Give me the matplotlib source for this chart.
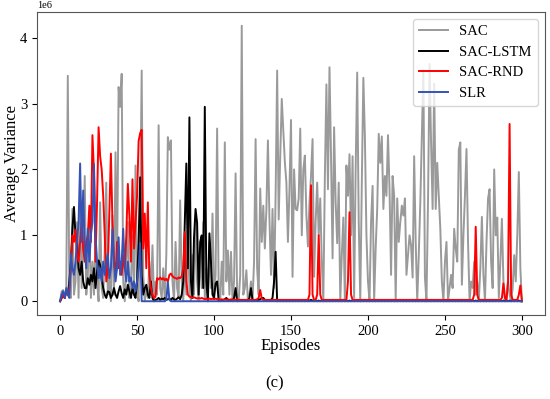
import numpy as np
import matplotlib
matplotlib.use('Agg')
import matplotlib.pyplot as plt

# average variance per episode, in units of 1e6
sac = [
    0.0, 0.15, 0.17, 0.05, 0.15, 3.42, 0.1, 0.05, 1.4, 0.1,
    0.3, 1.2, 0.05, 1.6, 0.2, 0.9, 1.9, 0.1, 0.4, 1.2,
    0.05, 0.6, 0.1, 1.0, 0.3, 0.0, 1.5, 0.2, 0.05, 0.8,
    1.8, 0.1, 0.4, 0.0, 1.3, 0.1, 2.26, 0.5, 3.25, 2.95,
    3.45, 0.3, 0.0, 0.6, 1.2, 0.05, 0.3, 1.0, 0.1, 2.06,
    0.2, 0.0, 1.4, 3.5, 0.4, 0.0, 0.2, 0.05, 0.6, 0.1,
    0.85, 0.0, 0.3, 0.1, 2.67, 0.2, 0.05, 0.5, 0.0, 0.7,
    2.49, 2.3, 2.44, 0.3, 0.0, 0.9, 0.2, 0.05, 1.53, 0.3,
    0.0, 0.6, 0.1, 1.1, 0.2, 0.0, 0.7, 0.1, 1.3, 0.3,
    0.0, 0.8, 0.2, 1.2, 0.05, 0.5, 0.0, 0.9, 0.2, 1.33,
    0.1, 0.4, 2.62, 0.2, 0.0, 0.6, 0.1, 2.41, 0.3, 0.77,
    0.1, 0.75, 0.0, 0.3, 1.94, 0.1, 0.0, 0.4, 4.18, 0.1,
    0.2, 0.47, 0.0, 0.1, 0.3, 0.0, 0.6, 2.46, 0.5, 0.1,
    1.71, 0.9, 1.45, 0.8, 1.38, 2.44, 1.25, 0.4, 1.4, 0.2,
    1.6, 3.5, 1.24, 2.2, 3.07, 2.6, 2.11, 1.8, 0.9, 1.7,
    2.75, 0.37, 2.0, 1.4, 1.38, 1.56, 2.62, 1.0, 2.0, 2.21,
    1.3, 0.83, 1.5, 1.9, 2.46, 0.37, 1.2, 1.8, 1.0, 1.56,
    0.6, 0.0, 1.9, 3.29, 1.7, 3.55, 2.2, 0.65, 2.64, 1.5,
    0.88, 1.8, 0.0, 0.7, 1.27, 0.0, 2.06, 1.6, 2.23, 1.0,
    2.2, 0.05, 2.0, 3.47, 1.2, 0.0, 1.8, 3.39, 2.5, 1.0,
    0.3, 0.0, 1.2, 1.75, 0.0, 0.8, 1.4, 2.54, 2.1, 2.5,
    1.4, 1.9, 1.6, 2.52, 1.7, 0.4, 1.9, 1.6, 0.0, 1.56,
    0.9, 1.2, 1.45, 1.3, 1.56, 0.4, 0.7, 1.0, 0.85, 0.36,
    2.2, 0.9, 0.0, 0.7, 1.5, 2.5, 3.5, 0.36, 0.0, 1.5,
    3.6, 2.4, 1.4, 3.3, 1.4, 2.1, 1.6, 1.1, 0.3, 0.0,
    0.6, 0.9, 0.0, 0.2, 0.4, 0.2, 1.1, 0.8, 0.6, 2.3,
    2.41, 0.25, 1.0, 1.6, 2.31, 0.9, 0.0, 0.3, 0.2, 0.6,
    0.1, 0.3, 0.0, 0.5, 1.28, 0.4, 0.0, 0.9, 1.56, 1.7,
    0.6, 0.2, 2.0, 1.0, 1.27, 0.05, 0.6, 1.25, 0.3, 0.0,
    0.05, 0.3, 0.1, 0.0, 0.2, 0.7, 0.3, 1.0, 1.96, 0.5,
    0.0,
]

sac_lstm = [
    0.0, 0.05, 0.1, 0.05, 0.15, 0.1, 0.3, 0.6, 1.1, 1.43,
    1.0, 0.9, 0.5, 0.4, 0.6, 0.3, 0.2, 0.2, 0.35, 0.25,
    0.4, 0.3, 0.5, 0.2, 0.45, 0.62, 0.55, 0.35, 0.2, 0.1,
    0.05, 0.15, 0.14, 0.05, 0.1, 0.2, 0.1, 0.05, 0.15, 0.23,
    0.12, 0.05, 0.18, 0.1, 0.25, 0.15, 0.05, 0.2, 0.1, 0.05,
    0.3, 0.9, 1.88, 0.4, 0.1, 0.2, 0.25, 0.1, 0.05, 0.3,
    0.05, 0.0, 0.02, 0.03, 0.05, 0.02, 0.04, 0.03, 0.05, 0.02,
    0.03, 0.04, 0.02, 0.05, 0.03, 0.02, 0.04, 0.06, 0.03, 0.1,
    0.3, 1.2, 2.09, 0.5, 2.79, 0.3, 0.05, 0.97, 1.4, 1.19,
    0.1, 0.9, 1.0, 0.2, 2.95, 0.3, 0.0, 1.03, 0.6, 0.1,
    0.05, 0.27, 0.3, 0.0, 0.02, 0.01, 0.02, 0.03, 0.05, 0.02,
    0.01, 0.02, 0.01, 0.05, 0.2, 0.0, 0.01, 0.02, 0.01, 0.02,
    0.01, 0.02, 0.01, 0.05, 0.2, 0.02, 0.01, 0.02, 0.01, 0.02,
    0.03, 0.05, 0.05, 0.02, 0.01, 0.02, 0.01, 0.02, 0.05, 0.3,
    0.75, 0.0, 0.01, 0.0, 0.01, 0.0, 0.01, 0.0, 0.01, 0.0,
    0.01, 0.0, 0.01, 0.0, 0.01, 0.0, 0.01, 0.0, 0.01, 0.0,
    0.01, 0.0, 0.01, 0.02, 0.01, 0.0, 0.01, 0.0, 0.01, 0.0,
    0.01, 0.0, 0.01, 0.0, 0.01, 0.0, 0.01, 0.0, 0.01, 0.0,
    0.01, 0.0, 0.01, 0.0, 0.01, 0.0, 0.01, 0.0, 0.01, 0.0,
    0.01, 0.0, 0.01, 0.0, 0.01, 0.0, 0.01, 0.0, 0.01, 0.0,
    0.01, 0.0, 0.01, 0.0, 0.01, 0.0, 0.01, 0.0, 0.01, 0.0,
    0.01, 0.0, 0.01, 0.0, 0.01, 0.0, 0.01, 0.0, 0.02, 0.0,
    0.01, 0.0, 0.01, 0.0, 0.01, 0.0, 0.01, 0.0, 0.01, 0.0,
    0.01, 0.0, 0.02, 0.0, 0.01, 0.0, 0.01, 0.0, 0.01, 0.0,
    0.01, 0.0, 0.01, 0.0, 0.01, 0.0, 0.01, 0.0, 0.01, 0.0,
    0.01, 0.0, 0.01, 0.0, 0.01, 0.0, 0.01, 0.0, 0.01, 0.0,
    0.01, 0.0, 0.01, 0.0, 0.01, 0.0, 0.01, 0.0, 0.01, 0.0,
    0.01, 0.0, 0.01, 0.0, 0.01, 0.0, 0.01, 0.0, 0.01, 0.0,
    0.01, 0.0, 0.01, 0.0, 0.01, 0.0, 0.01, 0.0, 0.01, 0.0,
    0.01, 0.0, 0.01, 0.0, 0.01, 0.0, 0.01, 0.0, 0.01, 0.0,
    0.0,
]

sac_rnd = [
    0.0, 0.05, 0.1, 0.05, 0.15, 0.1, 0.2, 0.5, 1.0, 0.9,
    1.08, 0.7, 0.6, 0.9, 1.2, 0.8, 0.6, 0.9, 1.0, 1.45,
    0.9, 2.52, 1.96, 0.6, 1.5, 2.64, 2.2, 2.0, 1.6, 1.0,
    0.3, 0.5, 1.4, 2.24, 1.2, 0.6, 0.4, 0.9, 0.5, 0.6,
    0.4, 0.7, 0.5, 1.0, 1.78, 1.3, 0.6, 1.85, 0.8, 1.2,
    1.6, 2.43, 2.55, 2.6, 0.8, 1.33, 0.5, 1.5, 0.4, 0.2,
    0.1, 0.05, 0.07, 0.35, 0.33, 0.36, 0.33, 0.35, 0.32, 0.34,
    0.3, 0.4, 0.42, 0.38, 0.36, 0.35, 0.34, 0.36, 0.35, 0.38,
    0.5, 1.05, 0.3, 0.1, 0.07, 0.06, 0.05, 0.06, 0.05, 0.04,
    0.05, 0.04, 0.05, 0.04, 0.03, 0.04, 0.03, 0.04, 0.03, 0.04,
    0.03, 0.04, 0.03, 0.03, 0.02, 0.03, 0.02, 0.03, 0.02, 0.03,
    0.02, 0.03, 0.02, 0.02, 0.02, 0.03, 0.02, 0.02, 0.02, 0.02,
    0.02, 0.02, 0.02, 0.02, 0.02, 0.02, 0.02, 0.02, 0.03, 0.05,
    0.17, 0.04, 0.02, 0.02, 0.02, 0.02, 0.02, 0.02, 0.02, 0.02,
    0.02, 0.02, 0.02, 0.02, 0.02, 0.02, 0.02, 0.02, 0.02, 0.02,
    0.02, 0.02, 0.02, 0.02, 0.02, 0.02, 0.02, 0.02, 0.02, 0.02,
    0.02, 0.02, 0.1, 1.76, 0.1, 0.02, 0.02, 0.1, 1.0, 0.1,
    0.02, 0.02, 0.02, 0.02, 0.02, 0.02, 0.02, 0.02, 0.02, 0.02,
    0.02, 0.02, 0.02, 0.02, 0.02, 0.02, 0.02, 0.3, 1.35, 0.1,
    0.02, 0.02, 0.02, 0.02, 0.02, 0.02, 0.02, 0.02, 0.02, 0.02,
    0.02, 0.02, 0.02, 0.02, 0.02, 0.02, 0.02, 0.02, 0.02, 0.02,
    0.02, 0.02, 0.02, 0.02, 0.02, 0.02, 0.02, 0.02, 0.02, 0.02,
    0.02, 0.02, 0.02, 0.02, 0.02, 0.02, 0.02, 0.02, 0.02, 0.02,
    0.02, 0.02, 0.02, 0.02, 0.02, 0.02, 0.02, 0.02, 0.02, 0.02,
    0.02, 0.02, 0.02, 0.02, 0.02, 0.02, 0.02, 0.02, 0.02, 0.02,
    0.02, 0.02, 0.02, 0.02, 0.02, 0.02, 0.02, 0.02, 0.02, 0.02,
    0.02, 0.02, 0.02, 0.02, 0.02, 0.02, 0.02, 0.02, 0.02, 0.1,
    1.13, 0.1, 0.02, 0.02, 0.02, 0.02, 0.02, 0.02, 0.02, 0.02,
    0.02, 0.02, 0.02, 0.02, 0.02, 0.02, 0.02, 0.05, 0.27, 0.05,
    0.02, 0.3, 2.69, 0.1, 0.02, 0.02, 0.02, 0.02, 0.1, 0.24,
    0.0,
]

slr = [
    0.0, 0.1, 0.15, 0.05, 0.2, 0.1, 0.05, 0.72, 0.5, 0.4,
    0.6, 0.9, 1.2, 2.09, 0.9, 1.68, 0.8, 0.5, 1.1, 0.6,
    1.0, 1.2, 2.08, 1.0, 0.6, 0.35, 0.5, 0.3, 0.6, 0.4,
    0.6, 0.72, 0.35, 0.5, 1.09, 0.6, 0.3, 0.5, 0.97, 0.4,
    0.6, 1.1, 0.5, 0.3, 0.6, 0.3, 0.36, 0.2, 0.3, 0.15,
    0.3, 0.5, 0.88, 0.0, 0.0, 0.0, 0.0, 0.0, 0.0, 0.0,
    0.0, 0.0, 0.0, 0.0, 0.0, 0.0, 0.0, 0.0, 0.0, 0.02,
    0.29, 0.02, 0.0, 0.0, 0.0, 0.0, 0.0, 0.0, 0.0, 0.0,
] + [0.0] * 221

episodes = np.arange(len(sac))
names = ['SAC', 'SAC-LSTM', 'SAC-RND', 'SLR']
series = [sac, sac_lstm, sac_rnd, slr]
line_colors = ['#9a9a9a', '#000000', '#ff0000', '#3552b4']

plt.rcParams['font.family'] = ['Liberation Serif', 'DejaVu Serif']

fig = plt.figure(figsize=(5.5, 3.99), dpi=100)
ax = fig.add_axes([0.0673, 0.2105, 0.9236, 0.7595])

for name, vals, c in zip(names, series, line_colors):
    ax.plot(episodes, np.array(vals) * 1e6, color=c, linewidth=1.4, label=name)

ax.set_xticks([0, 50, 100, 150, 200, 250, 300])
ax.set_yticks([0, 1e6, 2e6, 3e6, 4e6])
ax.tick_params(labelsize=10.5)
ax.yaxis.get_offset_text().set_fontsize(7.5)
for s in ax.spines.values():
    s.set_color('#555555')

ax.set_xlabel('Episodes', fontsize=12, labelpad=0)
ax.set_ylabel('Average Variance', fontsize=12)
ax.yaxis.set_label_coords(-0.034, 0.5)
ax.legend(loc='upper right', fontsize=10.5)

fig.text(0.5, 0.03, '(c)', ha='center', fontsize=12)
fig.savefig('out.png', dpi=100)
